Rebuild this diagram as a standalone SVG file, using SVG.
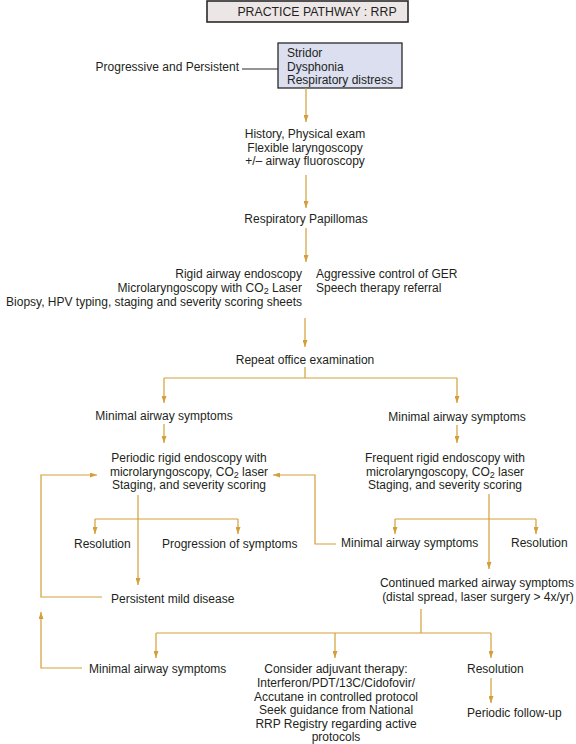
<svg xmlns="http://www.w3.org/2000/svg" width="576" height="744" viewBox="0 0 576 744">
<style>
text{font-family:"Liberation Sans",Arial,sans-serif;font-size:12px;fill:#231f20}
.c{text-anchor:middle}
.e{text-anchor:end}
.ln{fill:none;stroke:#d29f3a;stroke-width:1.2}
.ar{fill:none;stroke:#d29f3a;stroke-width:1.2;marker-end:url(#ah)}
.sub{font-size:9px}
</style>
<defs>
<marker id="ah" viewBox="0 0 7 5" refX="7" refY="2.5" markerWidth="7" markerHeight="5" markerUnits="userSpaceOnUse" orient="auto">
<path d="M0,0 L7,2.5 L0,5 z" fill="#d29f3a"/>
</marker>
</defs>
<rect width="576" height="744" fill="#ffffff"/>
<g id="title">
<rect x="207" y="1" width="201" height="21" fill="#ede6e6" stroke="#2a2a2a" stroke-width="1.6"/>
<text x="317" y="16" class="c" style="font-size:12.3px">PRACTICE PATHWAY : RRP</text>
</g>
<g id="n-symptoms">
<rect x="278" y="43" width="124" height="45" fill="#dcdff0" stroke="#2a2a2a" stroke-width="1.3"/>
<text x="287" y="57">Stridor</text>
<text x="287" y="70.5">Dysphonia</text>
<text x="287" y="84">Respiratory distress</text>
</g>
<g id="n-progressive">
<text x="239" y="71" class="e">Progressive and Persistent</text>
</g>
<g id="n-history">
<text x="305" y="138" class="c">History, Physical exam</text>
<text x="305" y="151.5" class="c">Flexible laryngoscopy</text>
<text x="305" y="165" class="c">+/– airway fluoroscopy</text>
</g>
<g id="n-papillomas">
<text x="306" y="223" class="c">Respiratory Papillomas</text>
</g>
<g id="n-rigid">
<text x="302" y="278" class="e">Rigid airway endoscopy</text>
<text x="302" y="292" class="e">Microlaryngoscopy with CO<tspan class="sub" dy="2">2</tspan><tspan dy="-2"> Laser</tspan></text>
<text x="302" y="306" class="e">Biopsy, HPV typing, staging and severity scoring sheets</text>
</g>
<g id="n-ger">
<text x="316" y="278">Aggressive control of GER</text>
<text x="316" y="292">Speech therapy referral</text>
</g>
<g id="n-repeat">
<text x="305" y="364" class="c">Repeat office examination</text>
</g>
<g id="n-min-left">
<text x="164" y="420" class="c">Minimal airway symptoms</text>
</g>
<g id="n-min-right">
<text x="457" y="421" class="c">Minimal airway symptoms</text>
</g>
<g id="n-periodic">
<text x="189" y="462" class="c">Periodic rigid endoscopy with</text>
<text x="189" y="475.5" class="c">microlaryngoscopy, CO<tspan class="sub" dy="2">2</tspan><tspan dy="-2"> laser</tspan></text>
<text x="189" y="489" class="c">Staging, and severity scoring</text>
</g>
<g id="n-frequent">
<text x="445" y="462" class="c">Frequent rigid endoscopy with</text>
<text x="445" y="475.5" class="c">microlaryngoscopy, CO<tspan class="sub" dy="2">2</tspan><tspan dy="-2"> laser</tspan></text>
<text x="445" y="489" class="c">Staging, and severity scoring</text>
</g>
<g id="n-resolution-1">
<text x="74" y="548">Resolution</text>
</g>
<g id="n-progression">
<text x="162" y="548">Progression of symptoms</text>
</g>
<g id="n-min-mid">
<text x="341" y="547">Minimal airway symptoms</text>
</g>
<g id="n-resolution-2">
<text x="511" y="547">Resolution</text>
</g>
<g id="n-persistent">
<text x="111" y="603">Persistent mild disease</text>
</g>
<g id="n-continued">
<text x="477" y="587" class="c">Continued marked airway symptoms</text>
<text x="478" y="601" class="c">(distal spread, laser surgery &gt; 4x/yr)</text>
</g>
<g id="n-min-bottom">
<text x="89" y="673">Minimal airway symptoms</text>
</g>
<g id="n-adjuvant">
<text x="336" y="673" class="c">Consider adjuvant therapy:</text>
<text x="336" y="687" class="c">Interferon/PDT/13C/Cidofovir/</text>
<text x="336" y="700.5" class="c">Accutane in controlled protocol</text>
<text x="336" y="714" class="c">Seek guidance from National</text>
<text x="336" y="728" class="c">RRP Registry regarding active</text>
<text x="336" y="741" class="c">protocols</text>
</g>
<g id="n-resolution-3">
<text x="467" y="673">Resolution</text>
</g>
<g id="n-followup">
<text x="467" y="717">Periodic follow-up</text>
</g>
<g id="connectors">
<line x1="242" y1="69" x2="278" y2="69" stroke="#2a2a2a" stroke-width="1.1"/>
<line class="ar" x1="306" y1="88" x2="306" y2="122"/>
<line class="ar" x1="306" y1="175" x2="306" y2="208"/>
<line class="ar" x1="306" y1="228" x2="306" y2="262"/>
<line class="ar" x1="305" y1="318" x2="305" y2="347"/>
<line class="ln" x1="305" y1="367" x2="305" y2="378"/>
<polyline class="ln" points="164,378 457,378"/>
<line class="ar" x1="164" y1="378" x2="164" y2="403"/>
<line class="ar" x1="457" y1="378" x2="457" y2="403"/>
<line class="ar" x1="164" y1="424" x2="164" y2="443"/>
<line class="ar" x1="457" y1="425" x2="457" y2="443"/>
<polyline class="ar" points="102,597 41,597 41,475 97,475"/>
<polyline class="ar" points="82,668 41,668 41,612"/>
<polyline class="ar" points="336,544 315,544 315,475 273,475"/>
<line class="ar" x1="138" y1="495" x2="138" y2="585"/>
<polyline class="ln" points="95,519 238,519"/>
<line class="ar" x1="95" y1="519" x2="95" y2="534"/>
<line class="ar" x1="238" y1="519" x2="238" y2="534"/>
<line class="ar" x1="489" y1="494" x2="489" y2="569"/>
<polyline class="ln" points="395,519 536,519"/>
<line class="ar" x1="395" y1="519" x2="395" y2="534"/>
<line class="ar" x1="536" y1="519" x2="536" y2="534"/>
<line class="ln" x1="421" y1="609" x2="421" y2="633"/>
<polyline class="ln" points="156,633 491,633"/>
<line class="ar" x1="156" y1="633" x2="156" y2="658"/>
<line class="ar" x1="335" y1="633" x2="335" y2="658"/>
<line class="ar" x1="491" y1="633" x2="491" y2="658"/>
<line class="ar" x1="491" y1="678" x2="491" y2="703"/>
</g>
</svg>
